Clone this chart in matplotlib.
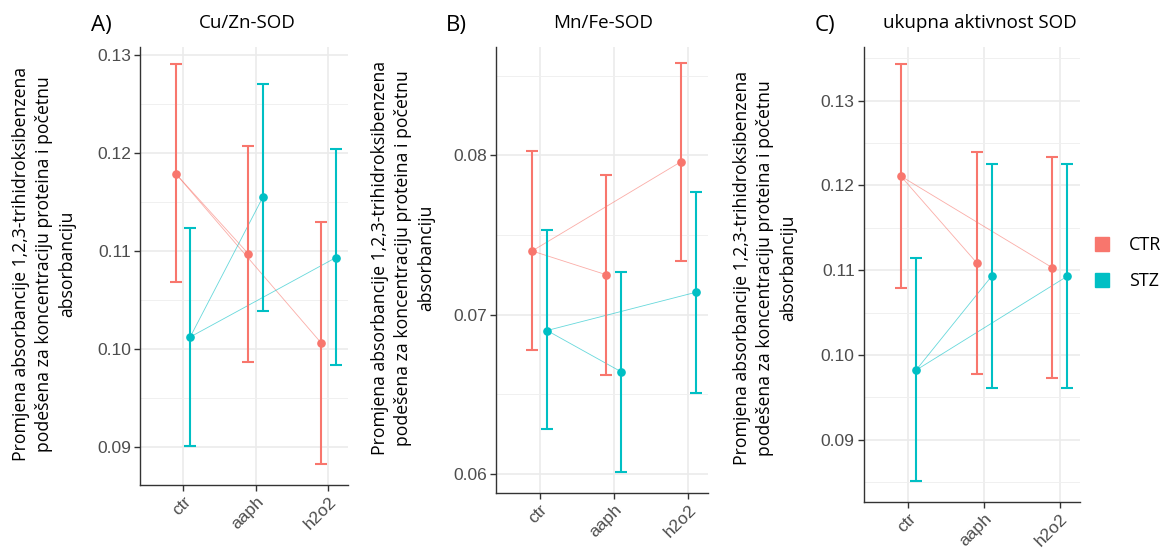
import numpy as np
import matplotlib
matplotlib.use('Agg')
import matplotlib.pyplot as plt
from matplotlib.lines import Line2D
from matplotlib.ticker import MultipleLocator

# podaci po panelima: srednja vrijednost, gornja i donja granica
treatments = ['ctr', 'aaph', 'h2o2']
groups = ['CTR', 'STZ']
colors = {'CTR': '#F8766D', 'STZ': '#00BFC4'}

cuzn_ctr_mean = [0.1179, 0.1097, 0.1006]
cuzn_ctr_hi = [0.1291, 0.1207, 0.1130]
cuzn_ctr_lo = [0.1068, 0.0986, 0.0882]
cuzn_stz_mean = [0.1012, 0.1155, 0.1093]
cuzn_stz_hi = [0.1123, 0.1271, 0.1204]
cuzn_stz_lo = [0.0901, 0.1039, 0.0983]

mnfe_ctr_mean = [0.0740, 0.0725, 0.0796]
mnfe_ctr_hi = [0.0803, 0.0788, 0.0858]
mnfe_ctr_lo = [0.0678, 0.0662, 0.0734]
mnfe_stz_mean = [0.0690, 0.0664, 0.0714]
mnfe_stz_hi = [0.0753, 0.0727, 0.0777]
mnfe_stz_lo = [0.0628, 0.0601, 0.0651]

tot_ctr_mean = [0.1211, 0.1109, 0.1103]
tot_ctr_hi = [0.1343, 0.1240, 0.1233]
tot_ctr_lo = [0.1079, 0.0977, 0.0973]
tot_stz_mean = [0.0982, 0.1093, 0.1093]
tot_stz_hi = [0.1114, 0.1225, 0.1225]
tot_stz_lo = [0.0851, 0.0961, 0.0961]

panels = [
    dict(letter='A)', title='Cu/Zn-SOD',
         data={'CTR': (cuzn_ctr_mean, cuzn_ctr_hi, cuzn_ctr_lo),
               'STZ': (cuzn_stz_mean, cuzn_stz_hi, cuzn_stz_lo)},
         pos=[140, 47.3, 348, 484.8], ylim=(0.0861, 0.1308), yticks=[0.09, 0.10, 0.11, 0.12, 0.13],
         title_x=247, letter_x=91, ylab_x=44, ylab_y=264),
    dict(letter='B)', title='Mn/Fe-SOD',
         data={'CTR': (mnfe_ctr_mean, mnfe_ctr_hi, mnfe_ctr_lo),
               'STZ': (mnfe_stz_mean, mnfe_stz_hi, mnfe_stz_lo)},
         pos=[495.7, 47.3, 708.3, 492.8], ylim=(0.0588, 0.0868), yticks=[0.06, 0.07, 0.08],
         title_x=603, letter_x=446, ylab_x=403, ylab_y=258),
    dict(letter='C)', title='ukupna aktivnost SOD',
         data={'CTR': (tot_ctr_mean, tot_ctr_hi, tot_ctr_lo),
               'STZ': (tot_stz_mean, tot_stz_hi, tot_stz_lo)},
         pos=[863.7, 47.3, 1080.3, 501.6], ylim=(0.0827, 0.1363), yticks=[0.09, 0.10, 0.11, 0.12, 0.13],
         title_x=980, letter_x=815, ylab_x=765, ylab_y=268),
]

ylabel = ('Promjena absorbancije 1,2,3-trihidroksibenzena\n'
          'podešena za koncentraciju proteina i početnu\n'
          'absorbanciju')

W, H = 1167, 548
fig = plt.figure(figsize=(W / 100, H / 100), dpi=100)

dodge = {'CTR': -0.1, 'STZ': 0.1}
x = np.arange(1, len(treatments) + 1)

for p in panels:
    l, t, r, b = p['pos']
    ax = fig.add_axes([l / W, 1 - b / H, (r - l) / W, (b - t) / H])
    for g in groups:
        mean, hi, lo = (np.array(v) for v in p['data'][g])
        xs = x + dodge[g]
        # tanke linije od kontrole prema ostalim tretmanima
        for i in range(1, len(xs)):
            ax.plot([xs[0], xs[i]], [mean[0], mean[i]], color=colors[g], lw=0.6, alpha=0.6, zorder=2)
        ax.errorbar(xs, mean, yerr=[mean - lo, hi - mean], fmt='none', ecolor=colors[g],
                    elinewidth=1.5, capsize=4.6, capthick=1.5, zorder=3)
        ax.plot(xs, mean, 'o', color=colors[g], ms=5.2, zorder=4)

    ax.set_xlim(0.41, 3.27)
    ax.set_ylim(*p['ylim'])
    ax.set_xticks(x)
    ax.set_xticklabels(treatments, rotation=45, ha='right', va='top', rotation_mode='anchor',
                       fontsize=12.5, color='#4D4D4D', family='Liberation Sans')
    ax.set_yticks(p['yticks'])
    ax.set_yticklabels(['%.2f' % v for v in p['yticks']], fontsize=12.5, color='#4D4D4D',
                       family='Liberation Sans')
    ax.yaxis.set_minor_locator(MultipleLocator(0.005))
    ax.grid(True, which='major', color='#EBEBEB', lw=1.2, zorder=0)
    ax.grid(True, which='minor', axis='y', color='#F0F0F0', lw=0.7, zorder=0)
    ax.set_axisbelow(True)
    for s in ['top', 'right']:
        ax.spines[s].set_visible(False)
    for s in ['left', 'bottom']:
        ax.spines[s].set_color('#333333')
        ax.spines[s].set_linewidth(1.0)
    ax.tick_params(which='major', length=4.5, width=1.0, color='#333333', pad=2)
    ax.tick_params(which='minor', length=0)

    fig.text(p['title_x'] / W, 1 - 23 / H, p['title'], ha='center', va='center', fontsize=13.5,
             family='Open Sans')
    fig.text(p['letter_x'] / W, 1 - 26 / H, p['letter'], ha='left', va='center', fontsize=16,
             family='Open Sans')
    fig.text(p['ylab_x'] / W, 1 - p['ylab_y'] / H, ylabel, rotation=90, ha='center', va='center',
             multialignment='center', fontsize=12.7, linespacing=1.36, family='Open Sans')

handles = [Line2D([], [], marker='s', ls='none', color=colors[g], ms=10.5) for g in groups]
fig.legend(handles, groups, loc='center left', bbox_to_anchor=(1093 / W, 1 - 263 / H), frameon=False,
           borderaxespad=0, borderpad=0, handlelength=1.0, handletextpad=1.0, labelspacing=1.0,
           prop={'family': 'Open Sans', 'size': 13})

fig.savefig('out.png', dpi=100)
